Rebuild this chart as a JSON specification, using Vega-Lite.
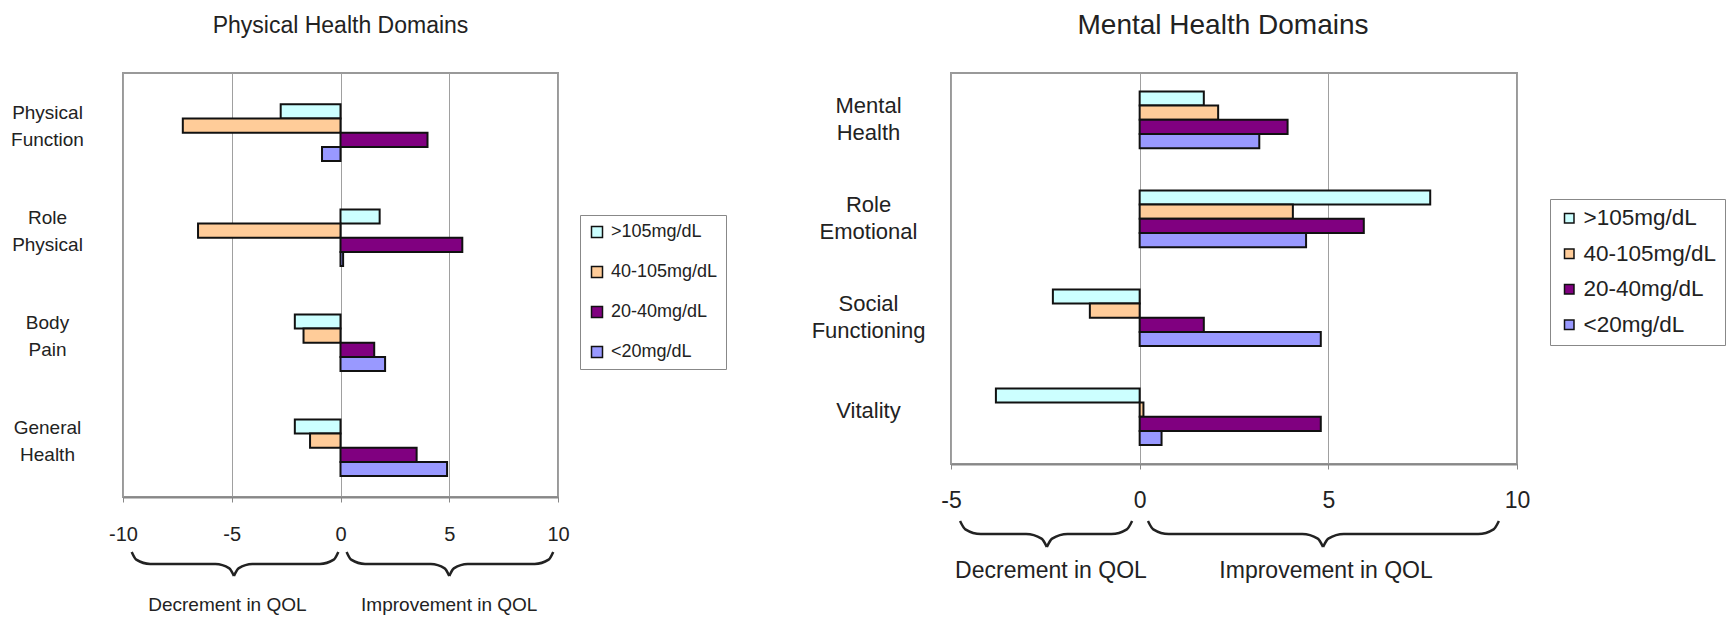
{
  "$schema": "https://vega.github.io/schema/vega-lite/v6.json",
  "background": "white",
  "padding": {"left": 9, "top": 11, "right": 0, "bottom": 0},
  "config": {
    "view": {"stroke": "#999", "strokeWidth": 2},
    "title": {"fontWeight": "normal", "color": "#222"}
  },
  "datasets": {
    "physical": [
      {"domain": "Physical Function", "group": ">105mg/dL", "v": -2.75},
      {"domain": "Physical Function", "group": "40-105mg/dL", "v": -7.25},
      {"domain": "Physical Function", "group": "20-40mg/dL", "v": 4.0},
      {"domain": "Physical Function", "group": "<20mg/dL", "v": -0.85},
      {"domain": "Role Physical", "group": ">105mg/dL", "v": 1.8},
      {"domain": "Role Physical", "group": "40-105mg/dL", "v": -6.55},
      {"domain": "Role Physical", "group": "20-40mg/dL", "v": 5.6},
      {"domain": "Role Physical", "group": "<20mg/dL", "v": 0.12},
      {"domain": "Body Pain", "group": ">105mg/dL", "v": -2.1},
      {"domain": "Body Pain", "group": "40-105mg/dL", "v": -1.7},
      {"domain": "Body Pain", "group": "20-40mg/dL", "v": 1.55},
      {"domain": "Body Pain", "group": "<20mg/dL", "v": 2.05},
      {"domain": "General Health", "group": ">105mg/dL", "v": -2.1},
      {"domain": "General Health", "group": "40-105mg/dL", "v": -1.4},
      {"domain": "General Health", "group": "20-40mg/dL", "v": 3.5},
      {"domain": "General Health", "group": "<20mg/dL", "v": 4.9}
    ],
    "mental": [
      {"domain": "Mental Health", "group": ">105mg/dL", "v": 1.7},
      {"domain": "Mental Health", "group": "40-105mg/dL", "v": 2.08},
      {"domain": "Mental Health", "group": "20-40mg/dL", "v": 3.92},
      {"domain": "Mental Health", "group": "<20mg/dL", "v": 3.17},
      {"domain": "Role Emotional", "group": ">105mg/dL", "v": 7.7},
      {"domain": "Role Emotional", "group": "40-105mg/dL", "v": 4.06},
      {"domain": "Role Emotional", "group": "20-40mg/dL", "v": 5.94},
      {"domain": "Role Emotional", "group": "<20mg/dL", "v": 4.41},
      {"domain": "Social Functioning", "group": ">105mg/dL", "v": -2.3},
      {"domain": "Social Functioning", "group": "40-105mg/dL", "v": -1.32},
      {"domain": "Social Functioning", "group": "20-40mg/dL", "v": 1.7},
      {"domain": "Social Functioning", "group": "<20mg/dL", "v": 4.8},
      {"domain": "Vitality", "group": ">105mg/dL", "v": -3.81},
      {"domain": "Vitality", "group": "40-105mg/dL", "v": 0.1},
      {"domain": "Vitality", "group": "20-40mg/dL", "v": 4.8},
      {"domain": "Vitality", "group": "<20mg/dL", "v": 0.58}
    ],
    "physBraces": [
      {"part": "L1", "v": -9.6, "h": 0}, {"part": "L1", "v": -9.39, "h": 0.32}, {"part": "L1", "v": -8.75, "h": 0.5}, {"part": "L1", "v": -5.75, "h": 0.5}, {"part": "L1", "v": -5.11, "h": 0.68}, {"part": "L1", "v": -4.9, "h": 1},
      {"part": "L2", "v": -4.9, "h": 1}, {"part": "L2", "v": -4.69, "h": 0.68}, {"part": "L2", "v": -4.05, "h": 0.5}, {"part": "L2", "v": -0.95, "h": 0.5}, {"part": "L2", "v": -0.31, "h": 0.32}, {"part": "L2", "v": -0.1, "h": 0},
      {"part": "R1", "v": 0.28, "h": 0}, {"part": "R1", "v": 0.49, "h": 0.32}, {"part": "R1", "v": 1.13, "h": 0.5}, {"part": "R1", "v": 4.15, "h": 0.5}, {"part": "R1", "v": 4.79, "h": 0.68}, {"part": "R1", "v": 5.0, "h": 1},
      {"part": "R2", "v": 5.0, "h": 1}, {"part": "R2", "v": 5.21, "h": 0.68}, {"part": "R2", "v": 5.85, "h": 0.5}, {"part": "R2", "v": 8.93, "h": 0.5}, {"part": "R2", "v": 9.57, "h": 0.32}, {"part": "R2", "v": 9.78, "h": 0}
    ],
    "physLabels": [
      {"label": "Decrement in QOL", "v": -5.2, "h": 2.46},
      {"label": "Improvement in QOL", "v": 5.0, "h": 2.46}
    ],
    "mentBraces": [
      {"part": "L1", "v": -4.76, "h": 0}, {"part": "L1", "v": -4.62, "h": 0.32}, {"part": "L1", "v": -4.21, "h": 0.5}, {"part": "L1", "v": -3.01, "h": 0.5}, {"part": "L1", "v": -2.6, "h": 0.68}, {"part": "L1", "v": -2.46, "h": 1},
      {"part": "L2", "v": -2.46, "h": 1}, {"part": "L2", "v": -2.32, "h": 0.68}, {"part": "L2", "v": -1.91, "h": 0.5}, {"part": "L2", "v": -0.75, "h": 0.5}, {"part": "L2", "v": -0.34, "h": 0.32}, {"part": "L2", "v": -0.2, "h": 0},
      {"part": "R1", "v": 0.22, "h": 0}, {"part": "R1", "v": 0.36, "h": 0.32}, {"part": "R1", "v": 0.77, "h": 0.5}, {"part": "R1", "v": 4.31, "h": 0.5}, {"part": "R1", "v": 4.72, "h": 0.68}, {"part": "R1", "v": 4.86, "h": 1},
      {"part": "R2", "v": 4.86, "h": 1}, {"part": "R2", "v": 5.0, "h": 0.68}, {"part": "R2", "v": 5.41, "h": 0.5}, {"part": "R2", "v": 8.97, "h": 0.5}, {"part": "R2", "v": 9.38, "h": 0.32}, {"part": "R2", "v": 9.52, "h": 0}
    ],
    "mentLabels": [
      {"label": "Decrement in QOL", "v": -2.35, "h": 2.2},
      {"label": "Improvement in QOL", "v": 4.94, "h": 2.2}
    ]
  },
  "hconcat": [
    {
      "width": 435,
      "height": 424,
      "title": {"text": "Physical Health Domains", "font": "Liberation Sans, Arial, sans-serif", "fontSize": 23, "anchor": "middle", "baseline": "alphabetic", "offset": 17},
      "layer": [
        {
          "data": {"name": "physical"},
          "mark": {"type": "bar", "stroke": "#111", "strokeWidth": 2},
          "encoding": {
            "y": {"field": "domain", "type": "nominal", "sort": ["Physical Function", "Role Physical", "Body Pain", "General Health"],
                  "scale": {"paddingInner": 0.46, "paddingOuter": 0.249, "align": 0.6},
                  "axis": {"title": null, "ticks": false, "domain": false, "labelExpr": "split(datum.label, ' ')", "labelAlign": "center", "labelBaseline": "middle", "labelPadding": 76, "labelFont": "Liberation Sans, Arial, sans-serif", "labelFontSize": 19, "labelLineHeight": 27, "labelColor": "#222", "labelOffset": -20, "labelLimit": 0}},
            "yOffset": {"field": "group", "type": "nominal", "sort": [">105mg/dL", "40-105mg/dL", "20-40mg/dL", "<20mg/dL"], "scale": {"paddingInner": 0, "paddingOuter": 0}},
            "x": {"field": "v", "type": "quantitative", "title": null, "scale": {"domain": [-10, 10], "nice": false},
                  "axis": {"title": null, "values": [-10, -5, 0, 5, 10], "labelExpr": "datum.value < 0 ? '-' + abs(datum.value) : '' + datum.value", "grid": true, "gridColor": "#a0a0a0", "gridWidth": 1, "domainColor": "#888", "domainWidth": 2, "tickColor": "#888", "tickSize": 5, "labelFont": "Liberation Sans, Arial, sans-serif", "labelFontSize": 20, "labelPadding": 22, "labelColor": "#222", "labelFlush": false}},
            "color": {"field": "group", "type": "nominal",
                      "scale": {"domain": [">105mg/dL", "40-105mg/dL", "20-40mg/dL", "<20mg/dL"], "range": ["#CCFFFF", "#FFCC99", "#800080", "#9999FF"]},
                      "legend": {"title": null, "orient": "none", "legendX": 457, "legendY": 142, "symbolType": "square", "symbolSize": 121, "symbolStrokeColor": "#111", "symbolStrokeWidth": 1.5, "symbolOpacity": 1, "labelFont": "Liberation Sans, Arial, sans-serif", "labelFontSize": 18, "labelColor": "#222", "rowPadding": 22, "padding": 8, "strokeColor": "#888", "fillColor": "white", "labelOffset": 5, "labelLimit": 0}}
          }
        },
        {
          "layer": [
            {
              "data": {"name": "physBraces"},
              "mark": {"type": "line", "interpolate": "monotone", "stroke": "#222", "strokeWidth": 2.5},
              "encoding": {
                "x": {"field": "v", "type": "quantitative", "title": null},
                "y": {"field": "h", "type": "quantitative", "scale": {"domain": [0, 1], "range": [479, 503], "nice": false, "zero": false}, "axis": null},
                "detail": {"field": "part"}
              }
            },
            {
              "data": {"name": "physLabels"},
              "mark": {"type": "text", "font": "Liberation Sans, Arial, sans-serif", "fontSize": 19, "color": "#222", "align": "center", "baseline": "alphabetic"},
              "encoding": {
                "x": {"field": "v", "type": "quantitative", "title": null},
                "y": {"field": "h", "type": "quantitative", "axis": null},
                "text": {"field": "label"}
              }
            }
          ]
        }
      ],
      "resolve": {"scale": {"y": "independent"}}
    },
    {
      "width": 566,
      "height": 391,
      "title": {"text": "Mental Health Domains", "font": "Liberation Sans, Arial, sans-serif", "fontSize": 28, "anchor": "middle", "baseline": "alphabetic", "offset": 11, "dx": -11},
      "layer": [
        {
          "data": {"name": "mental"},
          "mark": {"type": "bar", "stroke": "#111", "strokeWidth": 2},
          "encoding": {
            "y": {"field": "domain", "type": "nominal", "sort": ["Mental Health", "Role Emotional", "Social Functioning", "Vitality"],
                  "scale": {"paddingInner": 0.455, "paddingOuter": 0.2025, "align": 0.46},
                  "axis": {"title": null, "ticks": false, "domain": false, "labelExpr": "split(datum.label, ' ')", "labelAlign": "center", "labelBaseline": "middle", "labelPadding": 83, "labelFont": "Liberation Sans, Arial, sans-serif", "labelFontSize": 22, "labelLineHeight": 27, "labelColor": "#222", "labelOffset": {"condition": {"test": "datum.label == 'Vitality'", "value": -4}, "value": -12}, "labelLimit": 0}},
            "yOffset": {"field": "group", "type": "nominal", "sort": [">105mg/dL", "40-105mg/dL", "20-40mg/dL", "<20mg/dL"], "scale": {"paddingInner": 0, "paddingOuter": 0}},
            "x": {"field": "v", "type": "quantitative", "title": null, "scale": {"domain": [-5, 10], "nice": false},
                  "axis": {"title": null, "values": [-5, 0, 5, 10], "labelExpr": "datum.value < 0 ? '-' + abs(datum.value) : '' + datum.value", "grid": true, "gridColor": "#a0a0a0", "gridWidth": 1, "domainColor": "#888", "domainWidth": 2, "tickColor": "#888", "tickSize": 5, "labelFont": "Liberation Sans, Arial, sans-serif", "labelFontSize": 23, "labelPadding": 20, "labelColor": "#222", "labelFlush": false}},
            "color": {"field": "group", "type": "nominal",
                      "scale": {"domain": [">105mg/dL", "40-105mg/dL", "20-40mg/dL", "<20mg/dL"], "range": ["#CCFFFF", "#FFCC99", "#800080", "#9999FF"]},
                      "legend": {"title": null, "orient": "none", "legendX": 599, "legendY": 126, "symbolType": "square", "symbolSize": 90, "symbolStrokeColor": "#111", "symbolStrokeWidth": 1.5, "symbolOpacity": 1, "labelFont": "Liberation Sans, Arial, sans-serif", "labelFontSize": 22.5, "labelColor": "#222", "rowPadding": 12.5, "padding": 8, "strokeColor": "#888", "fillColor": "white", "labelOffset": 3, "labelLimit": 0}}
          }
        },
        {
          "layer": [
            {
              "data": {"name": "mentBraces"},
              "mark": {"type": "line", "interpolate": "monotone", "stroke": "#222", "strokeWidth": 2.5},
              "encoding": {
                "x": {"field": "v", "type": "quantitative", "title": null},
                "y": {"field": "h", "type": "quantitative", "scale": {"domain": [0, 1], "range": [448, 474], "nice": false, "zero": false}, "axis": null},
                "detail": {"field": "part"}
              }
            },
            {
              "data": {"name": "mentLabels"},
              "mark": {"type": "text", "font": "Liberation Sans, Arial, sans-serif", "fontSize": 23, "color": "#222", "align": "center", "baseline": "alphabetic"},
              "encoding": {
                "x": {"field": "v", "type": "quantitative", "title": null},
                "y": {"field": "h", "type": "quantitative", "axis": null},
                "text": {"field": "label"}
              }
            }
          ]
        }
      ],
      "resolve": {"scale": {"y": "independent"}}
    }
  ],
  "spacing": 82,
  "resolve": {"scale": {"color": "independent"}, "legend": {"color": "independent"}}
}
